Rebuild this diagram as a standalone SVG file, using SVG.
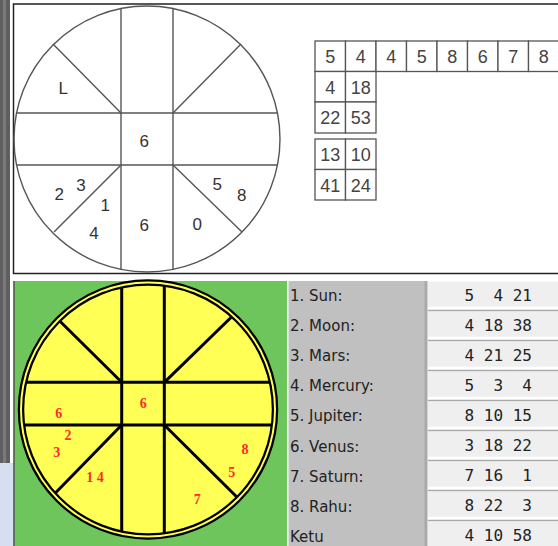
<svg xmlns="http://www.w3.org/2000/svg" width="558" height="546" viewBox="0 0 558 546">
<style>
.gt{font-family:"Liberation Sans",Arial,sans-serif;font-size:17px;fill:#333;text-anchor:middle}
.tt{font-family:"Liberation Sans",Arial,sans-serif;font-size:18px;fill:#444;text-anchor:middle}
.cell{fill:#fff;stroke:#555;stroke-width:1.3}
.gl{stroke:#555;stroke-width:1.4;fill:none}
.bl{stroke:#000;stroke-width:3;fill:none}
.rt{font-family:"Liberation Serif","Times New Roman",serif;font-weight:bold;font-size:14px;fill:#ff2a2a;text-anchor:middle}
.lb{font-family:"DejaVu Sans",sans-serif;font-size:15px;fill:#222}
.vb{fill:#efefef}
.vt{font-family:"DejaVu Sans Mono",monospace;font-size:16px;fill:#222;white-space:pre}
</style>
<defs>
<clipPath id="cc"><circle cx="148" cy="409.5" r="126"/></clipPath>
</defs>
<rect width="558" height="546" fill="#fff"/>
<g id="left-strip">
<rect x="0" y="0" width="10" height="463" fill="#5f5f5f"/>
<rect x="3" y="0" width="3" height="463" fill="#7a7a7a"/>
<rect x="0" y="463" width="13.5" height="83" fill="#d6deef"/>
</g>
<g id="top-panel">
<rect x="13.5" y="4" width="560" height="269.5" fill="#fff" stroke="#222" stroke-width="1.5"/>
<g id="top-chart">
<circle cx="147" cy="139" r="133" class="gl"/>
<line x1="121" y1="8.5" x2="121" y2="269.5" class="gl"/>
<line x1="173" y1="8.5" x2="173" y2="269.5" class="gl"/>
<line x1="16.5" y1="113" x2="277.5" y2="113" class="gl"/>
<line x1="16.5" y1="165" x2="277.5" y2="165" class="gl"/>
<line x1="121" y1="113" x2="53" y2="44" class="gl"/>
<line x1="173" y1="113" x2="241" y2="44" class="gl"/>
<line x1="121" y1="165" x2="54" y2="232" class="gl"/>
<line x1="173" y1="165" x2="242" y2="232" class="gl"/>
<text x="63.3" y="93.5" class="gt">L</text>
<text x="144.3" y="147" class="gt">6</text>
<text x="59.3" y="200" class="gt">2</text>
<text x="81" y="191" class="gt">3</text>
<text x="105.3" y="211" class="gt">1</text>
<text x="94" y="238.5" class="gt">4</text>
<text x="144.3" y="231" class="gt">6</text>
<text x="197.3" y="230" class="gt">0</text>
<text x="217.3" y="189.5" class="gt">5</text>
<text x="241.7" y="201" class="gt">8</text>
</g>
<g id="top-table">
<rect x="315" y="41" width="30.5" height="30.5" class="cell"/>
<rect x="345.5" y="41" width="30.5" height="30.5" class="cell"/>
<rect x="376" y="41" width="30.5" height="30.5" class="cell"/>
<rect x="406.5" y="41" width="30.5" height="30.5" class="cell"/>
<rect x="437" y="41" width="30.5" height="30.5" class="cell"/>
<rect x="467.5" y="41" width="30.5" height="30.5" class="cell"/>
<rect x="498" y="41" width="30.5" height="30.5" class="cell"/>
<rect x="528.5" y="41" width="30.5" height="30.5" class="cell"/>
<rect x="315" y="71.5" width="30.5" height="30.5" class="cell"/>
<rect x="345.5" y="71.5" width="30.5" height="30.5" class="cell"/>
<rect x="315" y="102" width="30.5" height="31" class="cell"/>
<rect x="345.5" y="102" width="30.5" height="31" class="cell"/>
<rect x="315" y="139" width="30.5" height="30.5" class="cell"/>
<rect x="345.5" y="139" width="30.5" height="30.5" class="cell"/>
<rect x="315" y="169.5" width="30.5" height="30.5" class="cell"/>
<rect x="345.5" y="169.5" width="30.5" height="30.5" class="cell"/>
<text x="330.3" y="63" class="tt">5</text>
<text x="360.8" y="63" class="tt">4</text>
<text x="391.3" y="63" class="tt">4</text>
<text x="421.8" y="63" class="tt">5</text>
<text x="452.3" y="63" class="tt">8</text>
<text x="482.8" y="63" class="tt">6</text>
<text x="513.3" y="63" class="tt">7</text>
<text x="543.8" y="63" class="tt">8</text>
<text x="330.3" y="93.5" class="tt">4</text>
<text x="360.8" y="93.5" class="tt">18</text>
<text x="330.3" y="124" class="tt">22</text>
<text x="360.8" y="124" class="tt">53</text>
<text x="330.3" y="161" class="tt">13</text>
<text x="360.8" y="161" class="tt">10</text>
<text x="330.3" y="191.5" class="tt">41</text>
<text x="360.8" y="191.5" class="tt">24</text>
</g>
</g>
<g id="bottom-chart">
<rect x="13.5" y="281" width="273.5" height="265" fill="#6dc55c"/>
<line x1="14" y1="281" x2="14" y2="546" stroke="#555" stroke-width="1.5"/>
<circle cx="148" cy="409.5" r="127" fill="#ffff55"/>
<g clip-path="url(#cc)">
<line x1="121.7" y1="270" x2="121.7" y2="550" class="bl"/>
<line x1="164.3" y1="270" x2="164.3" y2="550" class="bl"/>
<line x1="10" y1="382.3" x2="290" y2="382.3" class="bl"/>
<line x1="10" y1="425" x2="290" y2="425" class="bl"/>
<line x1="121.7" y1="382.3" x2="40" y2="301.5" class="bl"/>
<line x1="164.3" y1="382.3" x2="250" y2="299" class="bl"/>
<line x1="121.7" y1="425" x2="40" y2="508.8" class="bl"/>
<line x1="164.3" y1="425" x2="250" y2="510" class="bl"/>
</g>
<circle cx="148" cy="409.5" r="127" fill="none" stroke="#000" stroke-width="6.5"/>
<circle cx="148" cy="409.5" r="127" fill="none" stroke="#ffff55" stroke-width="2"/>
<text x="143.3" y="408" class="rt">6</text>
<text x="58.7" y="418" class="rt">6</text>
<text x="68" y="439.5" class="rt">2</text>
<text x="56.7" y="457" class="rt">3</text>
<text x="95" y="481.5" class="rt">1 4</text>
<text x="245" y="453.5" class="rt">8</text>
<text x="231.7" y="477" class="rt">5</text>
<text x="197.3" y="503.5" class="rt">7</text>
</g>
<g id="planet-table">
<rect x="288.5" y="281" width="138.5" height="265" fill="#c0c0c0"/>
<rect x="424.5" y="281" width="3" height="265" fill="#a9a9a9"/>
<g id="labels">
<text x="290" y="300.5" class="lb">1. Sun:</text>
<text x="290" y="330.7" class="lb">2. Moon:</text>
<text x="290" y="360.9" class="lb">3. Mars:</text>
<text x="290" y="391.1" class="lb">4. Mercury:</text>
<text x="290" y="421.3" class="lb">5. Jupiter:</text>
<text x="290" y="451.5" class="lb">6. Venus:</text>
<text x="290" y="481.7" class="lb">7. Saturn:</text>
<text x="290" y="511.9" class="lb">8. Rahu:</text>
<text x="290" y="542.1" class="lb">Ketu</text>
</g>
<g id="values">
<rect x="428" y="281.7" width="132" height="25" class="vb"/>
<rect x="428" y="311.7" width="132" height="25" class="vb"/>
<rect x="428" y="341.7" width="132" height="25" class="vb"/>
<rect x="428" y="371.7" width="132" height="25" class="vb"/>
<rect x="428" y="401.7" width="132" height="25" class="vb"/>
<rect x="428" y="431.7" width="132" height="25" class="vb"/>
<rect x="428" y="461.7" width="132" height="25" class="vb"/>
<rect x="428" y="491.7" width="132" height="25" class="vb"/>
<rect x="428" y="521.7" width="132" height="25" class="vb"/>
<g stroke="#a8a8a8" stroke-width="1.5">
<line x1="428" y1="310.5" x2="558" y2="310.5"/>
<line x1="428" y1="340.5" x2="558" y2="340.5"/>
<line x1="428" y1="370.5" x2="558" y2="370.5"/>
<line x1="428" y1="400.5" x2="558" y2="400.5"/>
<line x1="428" y1="430.5" x2="558" y2="430.5"/>
<line x1="428" y1="460.5" x2="558" y2="460.5"/>
<line x1="428" y1="490.5" x2="558" y2="490.5"/>
<line x1="428" y1="520.5" x2="558" y2="520.5"/>
</g>
<text x="464.5" y="300.5" class="vt" xml:space="preserve">5  4 21</text>
<text x="464.5" y="330.5" class="vt" xml:space="preserve">4 18 38</text>
<text x="464.5" y="360.5" class="vt" xml:space="preserve">4 21 25</text>
<text x="464.5" y="390.5" class="vt" xml:space="preserve">5  3  4</text>
<text x="464.5" y="420.5" class="vt" xml:space="preserve">8 10 15</text>
<text x="464.5" y="450.5" class="vt" xml:space="preserve">3 18 22</text>
<text x="464.5" y="480.5" class="vt" xml:space="preserve">7 16  1</text>
<text x="464.5" y="510.5" class="vt" xml:space="preserve">8 22  3</text>
<text x="464.5" y="540.5" class="vt" xml:space="preserve">4 10 58</text>
</g>
</g>
</svg>
